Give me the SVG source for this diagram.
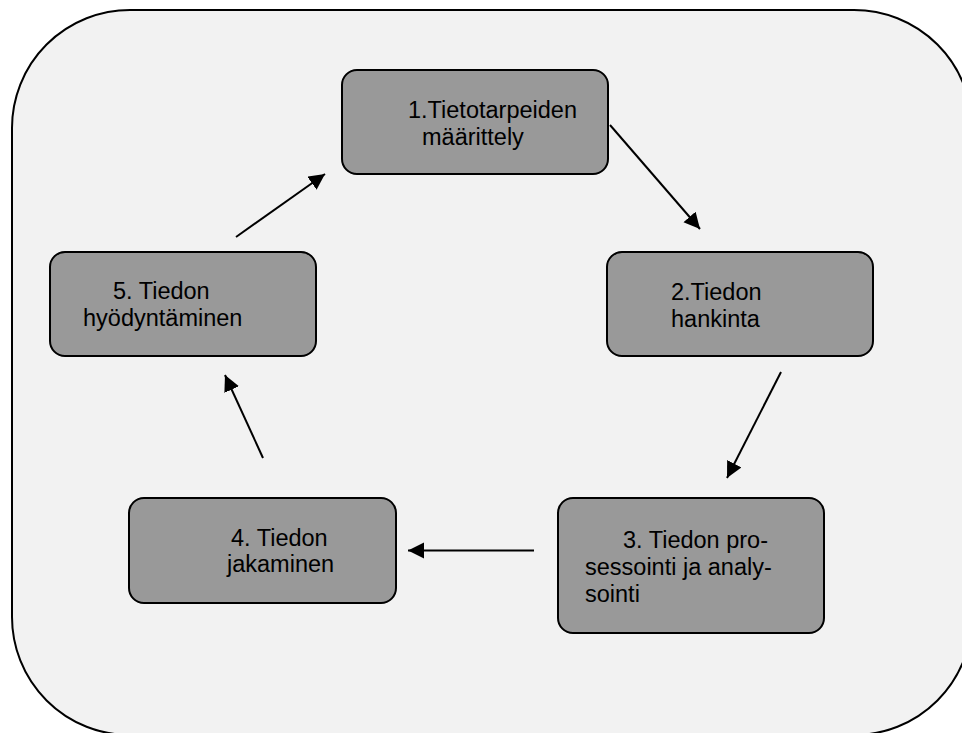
<svg xmlns="http://www.w3.org/2000/svg" width="962" height="733" viewBox="0 0 962 733">
  <style>
    .frame { fill: #F2F2F2; stroke: #000000; stroke-width: 2; }
    .box { fill: #999999; stroke: #000000; stroke-width: 2; }
    .label { font-family: "Liberation Sans", Arial, sans-serif; font-size: 23.5px; fill: #000000; }
    .arrow { stroke: #000000; stroke-width: 2; fill: none; marker-end: url(#head); }
  </style>
  <defs>
    <marker id="head" markerUnits="userSpaceOnUse" markerWidth="18" markerHeight="18" refX="16" refY="8" orient="auto">
      <path d="M0,0 L16,8 L0,16 z" fill="#000000"/>
    </marker>
  </defs>

  <!-- background frame -->
  <rect class="frame" x="12" y="10" width="960" height="725" rx="118" ry="118"/>

  <g id="node1">
    <rect class="box" x="342" y="70" width="266" height="104" rx="15" ry="15"/>
    <text class="label" x="408" y="118">1.Tietotarpeiden</text>
    <text class="label" x="422" y="145">määrittely</text>
  </g>

  <g id="node2">
    <rect class="box" x="607" y="252" width="266" height="104" rx="15" ry="15"/>
    <text class="label" x="671" y="300">2.Tiedon</text>
    <text class="label" x="671" y="327">hankinta</text>
  </g>

  <g id="node3">
    <rect class="box" x="558" y="498" width="266" height="135" rx="15" ry="15"/>
    <text class="label" x="623" y="548">3. Tiedon pro-</text>
    <text class="label" x="585" y="575">sessointi ja analy-</text>
    <text class="label" x="585" y="602">sointi</text>
  </g>

  <g id="node4">
    <rect class="box" x="129" y="498" width="267" height="105" rx="15" ry="15"/>
    <text class="label" x="231" y="546">4. Tiedon</text>
    <text class="label" x="227" y="572">jakaminen</text>
  </g>

  <g id="node5">
    <rect class="box" x="50" y="252" width="266" height="104" rx="15" ry="15"/>
    <text class="label" x="113" y="299">5. Tiedon</text>
    <text class="label" x="83" y="326">hyödyntäminen</text>
  </g>

  <g id="connectors">
    <line class="arrow" x1="610" y1="125" x2="700" y2="229"/>
    <line class="arrow" x1="781" y1="372" x2="727" y2="478"/>
    <line class="arrow" x1="534" y1="550.5" x2="408" y2="550.5"/>
    <line class="arrow" x1="263" y1="458" x2="225" y2="375"/>
    <line class="arrow" x1="236" y1="237" x2="325" y2="174"/>
  </g>
</svg>
